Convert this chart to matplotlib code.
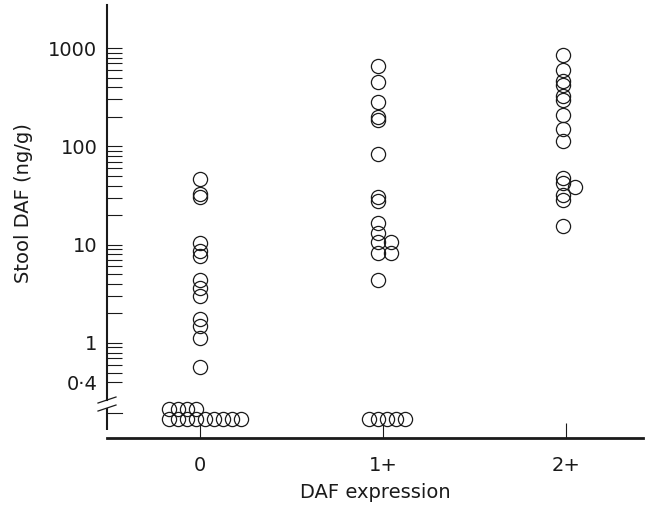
import numpy as np
import matplotlib.pyplot as plt
import matplotlib.transforms as mtransforms

# data (ng/g); undetectable samples are shown below the axis break
categories = ['0', '1+', '2+']
daf_0 = [47, 33, 30.5, 10.5, 8.7, 7.6, 4.4, 3.6, 3.0, 1.75, 1.5, 1.12, 0.57]
daf_1 = [650, 455, 285, 198, 186, 83, 30.8, 28, 16.7, 13.2, 10.7, 8.2, 4.4]
daf_1_side = [10.7, 8.2]
daf_2 = [850, 600, 460, 420, 325, 297, 208, 150, 113, 48, 42, 32, 28.5, 15.5]
daf_2_side = [38.5]
undetect_upper = [4, 0, 0]
undetect_lower = [9, 5, 0]

# layout (pixel offsets converted to category units)
PX = 1 / 183.0
main_shift = [0, -5, -3]
side_shift = [0, 8, 9]
row_start = [-31, -14, 0]
row_step = 9
nd_upper, nd_lower = 0.213, 0.169     # y levels of the two undetectable rows
nd_tick = 0.194
ylo, yhi = 0.1303, 2743
xlo, xhi = -0.508, 2.421

plt.rcParams['font.family'] = 'DejaVu Sans'
plt.rcParams['font.size'] = 14
ink = '#1a1a1a'

fig = plt.figure(figsize=(6.48, 5.18), dpi=100)
ax = fig.add_axes([107 / 648, 88 / 518, 536 / 648, 425 / 518])
ax.set_yscale('log')
ax.set_ylim(ylo, yhi)
ax.set_xlim(xlo, xhi)

mk = dict(marker='o', ms=10.2, mfc='none', mec=ink, mew=0.9, ls='none', clip_on=False)

main = [daf_0, daf_1, daf_2]
side = [[], daf_1_side, daf_2_side]
for i in range(len(categories)):
    ax.plot(np.full(len(main[i]), i + main_shift[i] * PX), main[i], **mk)
    if side[i]:
        ax.plot(np.full(len(side[i]), i + side_shift[i] * PX), side[i], **mk)
    for n, lev in [(undetect_lower[i], nd_lower), (undetect_upper[i], nd_upper)]:
        if n:
            xs = i + (row_start[i] + row_step * np.arange(n)) * PX
            ax.plot(xs, np.full(n, lev), **mk)

# axes / spines
for s in ['top', 'right']:
    ax.spines[s].set_visible(False)
ax.spines['bottom'].set_position(('outward', 5.8))
ax.spines['bottom'].set_linewidth(2.0)
ax.spines['left'].set_linewidth(1.5)
ax.spines['bottom'].set_color(ink)
ax.spines['left'].set_color(ink)

# broken y axis
brk_hi, brk_lo = 0.263, 0.218
ax.spines['left'].set_bounds(brk_hi, yhi)
ax.plot([xlo, xlo], [ylo, brk_lo], color=ink, lw=1.5, clip_on=False, solid_capstyle='butt')
dx = 9 * PX
for yc in [brk_hi, brk_lo]:
    ax.plot([xlo - dx, xlo + dx], [yc / 1.073, yc * 1.073], color=ink, lw=0.9, clip_on=False)
# tick below the break (level of the undetectable rows)
trans = mtransforms.blended_transform_factory(ax.transAxes, ax.transData)
ax.plot([0, 15 / 536], [nd_tick, nd_tick], color=ink, lw=0.8, transform=trans, clip_on=False)

major = [0.4, 1, 10, 100, 1000]
major_lbl = ['0\u00b74', '1', '10', '100', '1000']
minor = [k * 10.0 ** d for d in range(-1, 3) for k in range(2, 10)
         if 0.4 < k * 10.0 ** d < 1000]
ax.set_yticks(major)
ax.set_yticklabels(major_lbl)
ax.set_yticks(minor, minor=True)
ax.yaxis.set_minor_formatter(plt.NullFormatter())
ax.tick_params(axis='y', which='both', direction='in', length=10.8, width=0.8,
               color=ink, labelcolor=ink, pad=7)

ax.set_xticks(range(len(categories)))
ax.set_xticklabels(categories)
ax.tick_params(axis='x', direction='in', length=10.8, width=0.8, color=ink,
               labelcolor=ink, pad=13)

ax.set_xlabel('DAF expression', color=ink, labelpad=6)
ax.set_ylabel('Stool DAF (ng/g)', color=ink)
ax.yaxis.set_label_coords(-0.138, 0.534)

fig.savefig('out.png', dpi=100)
